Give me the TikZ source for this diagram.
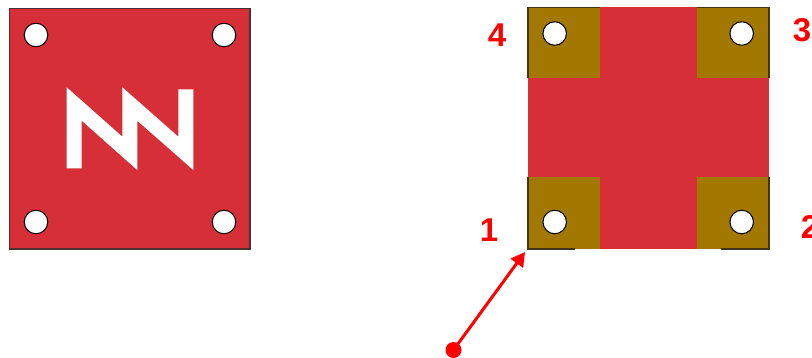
\documentclass[tikz,border=0pt]{standalone}
\usepackage{fontspec}
\setmainfont{Liberation Sans}
\usetikzlibrary{arrows.meta}
\definecolor{plate}{HTML}{D72F38}
\definecolor{pad}{HTML}{A27800}
\definecolor{edge}{HTML}{4A3030}
\definecolor{edgeb}{HTML}{40341A}
\tikzset{
  x=1pt,y=-1pt,
  hole/.style={circle,draw=black,fill=white,line width=1pt,minimum size=23.5pt,inner sep=0pt},
  num/.style={text=red,font=\bfseries\fontsize{33}{33}\selectfont,inner sep=0pt},
  padbox/.style={fill=pad,draw=none},
  padline/.style={edgeb,line width=1.2pt}
}
\begin{document}
\begin{tikzpicture}
\useasboundingbox (0,0) rectangle (812,358);
% left plate
\draw[fill=plate,draw=edge,line width=1.2pt] (9.5,8.5) rectangle (250,249);
\node[hole] (a1) at (36,35) {};
\node[hole] (a2) at (224,35) {};
\node[hole] (a3) at (36,222) {};
\node[hole] (a4) at (224,222) {};
\fill[white] (66.7,168.5) -- (66.7,87.3) -- (122.3,136.7) -- (122.3,87.3) -- (178.3,136.7) -- (178.3,89.3) -- (193.3,89.3) -- (193.3,170) -- (137.3,120.7) -- (137.3,170) -- (81.7,120.7) -- (81.7,168.5) -- cycle;
% right plate
\fill[plate] (528,7.5) rectangle (769,249);
\fill[padbox] (528,7.5) rectangle (600,78);
\fill[padbox] (697,7.5) rectangle (769,78);
\fill[padbox] (528,177) rectangle (600,249);
\fill[padbox] (697,177) rectangle (769,249);
\draw[padline] (600,7.5) -- (528,7.5) -- (528,78);
\draw[padline] (697,7.5) -- (769,7.5) -- (769,78);
\draw[padline] (528,177) -- (528,249) -- (575,249);
\draw[padline] (769,177) -- (769,249) -- (721,249);
\node[hole] (b4) at (554.7,33.5) {};
\node[hole] (b3) at (741.7,33.5) {};
\node[hole] (b1) at (554.7,222) {};
\node[hole] (b2) at (741.7,222) {};
% labels
\node[num] (n4) at (497,35) {4};
\node[num] (n3) at (802,30) {3};
\node[num] (n1) at (489,230) {1};
\node[num] (n2) at (810,227) {2};
% arrow
\node[circle,fill=red,minimum size=16pt,inner sep=0pt] (dot) at (453.5,350) {};
\coordinate (tip) at (525,252);
\draw[red,line width=3pt,-{Triangle[length=14pt,width=15pt]}] (dot.center) -- (tip);
\end{tikzpicture}
\end{document}
